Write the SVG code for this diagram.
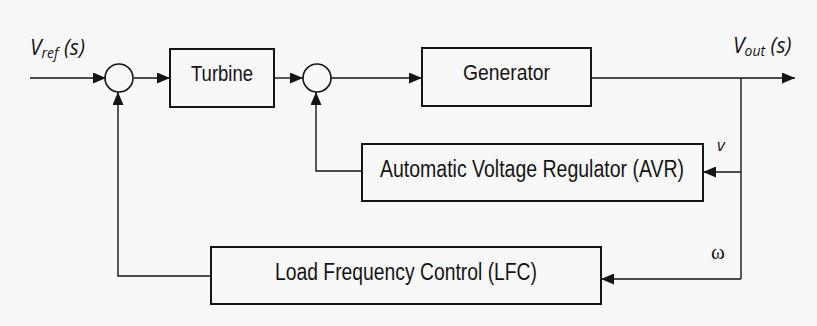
<svg xmlns="http://www.w3.org/2000/svg" width="817" height="326" viewBox="0 0 817 326">
<defs>
<marker id="ah" markerUnits="userSpaceOnUse" markerWidth="13" markerHeight="11" refX="13" refY="5.5" orient="auto">
<path d="M0,0 L13,5.5 L0,11 Z" fill="#151515"/>
</marker>
<style>
.box{fill:none;stroke:#151515;stroke-width:2}
.sum{fill:none;stroke:#151515;stroke-width:1.6}
.wire{fill:none;stroke:#151515;stroke-width:1.4}
.lbl{font-family:"Liberation Sans",Arial,sans-serif;fill:#151515;text-anchor:middle}
.sig{font-family:"Open Sans","Liberation Sans",sans-serif;font-style:italic;fill:#151515}
</style>
</defs>
<rect width="817" height="326" fill="#f8f8f8"/>
<g id="connectors">
<line class="wire" x1="30" y1="78" x2="106" y2="78" marker-end="url(#ah)"/>
<line class="wire" x1="134" y1="78" x2="170" y2="78" marker-end="url(#ah)"/>
<line class="wire" x1="274" y1="78" x2="303" y2="78" marker-end="url(#ah)"/>
<line class="wire" x1="331" y1="78" x2="422" y2="78" marker-end="url(#ah)"/>
<line class="wire" x1="591" y1="78" x2="795" y2="78" marker-end="url(#ah)"/>
<polyline class="wire" points="741,78 741,279"/>
<line class="wire" x1="741" y1="172" x2="703" y2="172" marker-end="url(#ah)"/>
<line class="wire" x1="741" y1="279" x2="601" y2="279" marker-end="url(#ah)"/>
<polyline class="wire" points="362,171 316,171 316,92" marker-end="url(#ah)"/>
<polyline class="wire" points="211,276 118,276 118,92" marker-end="url(#ah)"/>
</g>
<g id="sum1"><circle class="sum" cx="119" cy="78" r="14"/></g>
<g id="sum2"><circle class="sum" cx="317" cy="78" r="14"/></g>
<g id="turbine">
<rect class="box" x="170" y="49" width="104" height="58"/>
<text class="lbl" x="222" y="81" font-size="22" textLength="62" lengthAdjust="spacingAndGlyphs">Turbine</text>
</g>
<g id="generator">
<rect class="box" x="422" y="48" width="169" height="58"/>
<text class="lbl" x="506.5" y="80" font-size="22" textLength="87" lengthAdjust="spacingAndGlyphs">Generator</text>
</g>
<g id="avr">
<rect class="box" x="362" y="144" width="341" height="57"/>
<text class="lbl" x="532" y="177" font-size="23" textLength="304" lengthAdjust="spacingAndGlyphs">Automatic Voltage Regulator (AVR)</text>
</g>
<g id="lfc">
<rect class="box" x="211" y="247" width="390" height="57"/>
<text class="lbl" x="406" y="280" font-size="23" textLength="262" lengthAdjust="spacingAndGlyphs">Load Frequency Control (LFC)</text>
</g>
<g id="labels">
<text class="sig" x="30" y="55" font-size="21">V<tspan font-size="14" dy="3">ref</tspan><tspan dy="-3"> (s)</tspan></text>
<text class="sig" x="733" y="53" font-size="21">V<tspan font-size="14" dy="3">out</tspan><tspan dy="-3"> (s)</tspan></text>
<text class="sig" x="717" y="151" font-size="17">v</text>
<text x="711" y="259" font-size="21" font-family="Liberation Serif,serif" fill="#151515">ω</text>
</g>
</svg>
